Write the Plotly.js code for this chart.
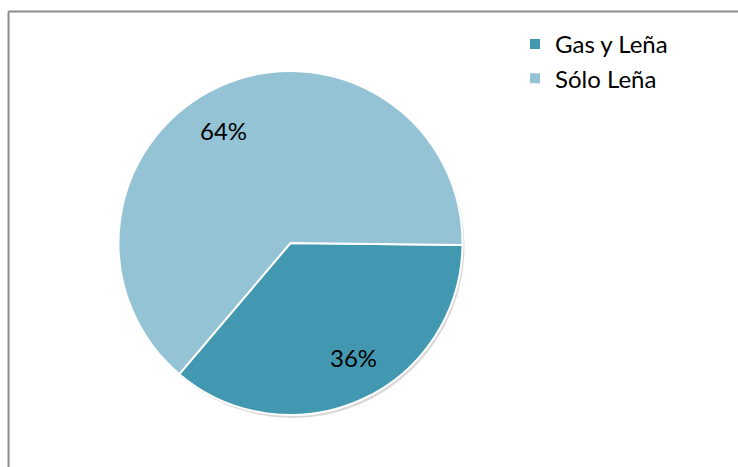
<!DOCTYPE html>
<html>
<head>
<meta charset="utf-8">
<script src="https://cdn.plot.ly/plotly-3.0.1.min.js"></script>
<style>
html,body{margin:0;padding:0;background:#fff;}
#chart{width:738px;height:467px;}
</style>
</head>
<body>
<div id="chart"></div>
<script>
const categories = ["Gas y Leña", "Sólo Leña"];
const values = [36, 64];
const colors = ["#4298b0", "#93c3d5"];

const W = 738, H = 467;
const cx = 290.5, cy = 243, r = 172;
const rotation = 90.7;
const labelAngleShift = [4.5, 6.5];   // degrees, fine placement of the data labels
const labelRadius = 0.76;
const domX = [(cx - r) / W, (cx + r) / W];
const domY = [(H - cy - r) / H, (H - cy + r) / H];
const FONT = "Lato, 'Open Sans', sans-serif";

const shadow = {
  type: "pie",
  values: [1],
  labels: ["shadow"],
  showlegend: false,
  hoverinfo: "skip",
  textinfo: "none",
  sort: false,
  marker: {colors: ["rgba(0,0,0,0.15)"], line: {width: 0}},
  domain: {x: [domX[0] + 2 / W, domX[1] + 2 / W], y: [domY[0] - 3 / H, domY[1] - 3 / H]}
};

const pie = {
  type: "pie",
  labels: categories,
  values: values,
  sort: false,
  direction: "clockwise",
  rotation: rotation,
  marker: {colors: colors, line: {color: "#ffffff", width: 2}},
  textinfo: "none",
  domain: {x: domX, y: domY},
  hoverinfo: "label+percent"
};

// data labels placed from the values
const total = values.reduce((a, b) => a + b, 0);
const annotations = [];
let cum = 0;
values.forEach((v, i) => {
  const mid = (90 - rotation) - 360 * (cum + v / 2) / total + labelAngleShift[i];
  cum += v;
  const a = mid * Math.PI / 180;
  const px = cx + labelRadius * r * Math.cos(a);
  const py = cy - labelRadius * r * Math.sin(a);
  annotations.push({
    xref: "paper", yref: "paper", x: px / W, y: 1 - py / H,
    xanchor: "center", yanchor: "middle", showarrow: false,
    text: Math.round(100 * v / total) + "%",
    font: {family: FONT, size: 24, color: "#000000"}
  });
});

const layout = {
  width: W,
  height: H,
  margin: {l: 0, r: 0, t: 0, b: 0},
  paper_bgcolor: "#ffffff",
  showlegend: true,
  legend: {
    x: 515 / W, y: 1 - 22 / H, xanchor: "left", yanchor: "top",
    font: {family: FONT, size: 24, color: "#000000"},
    bgcolor: "rgba(0,0,0,0)",
    traceorder: "normal"
  },
  annotations: annotations,
  shapes: [
    {type: "line", xref: "paper", yref: "paper", x0: 8.5 / W, x1: 1.01, y0: 1 - 11.5 / H, y1: 1 - 11.5 / H, line: {color: "#8c8c8c", width: 2}},
    {type: "line", xref: "paper", yref: "paper", x0: 8.5 / W, x1: 8.5 / W, y0: 1 - 11.5 / H, y1: -0.01, line: {color: "#8c8c8c", width: 2}}
  ]
};

Plotly.newPlot("chart", [shadow, pie], layout, {displayModeBar: false, staticPlot: true});
</script>
</body>
</html>
